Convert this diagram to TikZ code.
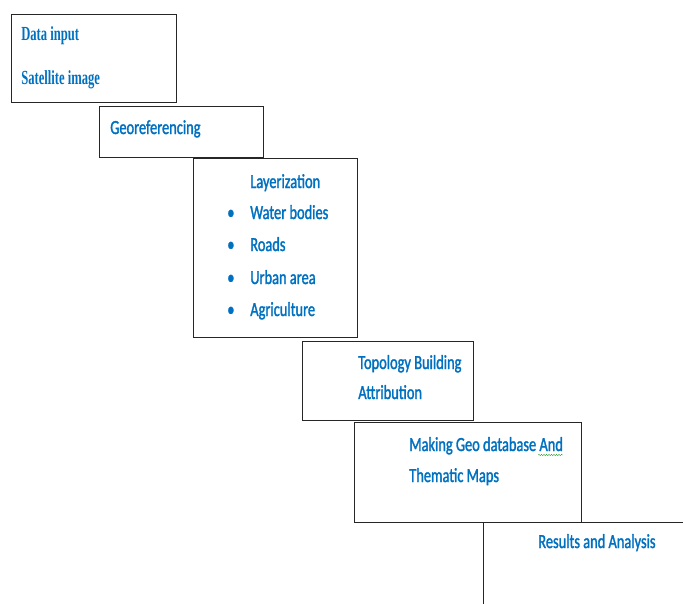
\documentclass[tikz,border=0pt]{standalone}
\usepackage{fontspec}
\setmainfont{Carlito}[FakeStretch=0.72, FakeBold=1.5]
\newfontfamily\datafont{Liberation Serif}[FakeStretch=0.63]
\usetikzlibrary{decorations.pathmorphing}
\definecolor{stepBlue}{HTML}{0070C0}
\definecolor{spellGreen}{HTML}{3FA33F}
\newcommand{\stepsize}{\fontsize{20}{24}\selectfont}

\begin{document}
\begin{tikzpicture}[x = 1pt, y = -1pt, semithick,
    stepbox/.style = {draw, line width=1.3pt, color=black!85,
                      anchor=north west, inner sep=0pt},
    steptext/.style = {anchor=base west, inner sep=0pt,
                       text=stepBlue, font=\stepsize}]
    \useasboundingbox (0, 0) rectangle (683, 603) ;

    % boxes of the staircase %

    % data input
    \node [stepbox, minimum width=165pt, minimum height=88pt]
          at (10.5, 14) (box-data) {} ;

    % georeferencing
    \node [stepbox, minimum width=164pt, minimum height=51pt]
          at (99, 106) (box-geo) {} ;

    % layerization
    \node [stepbox, minimum width=164pt, minimum height=179pt]
          at (193, 158) (box-layer) {} ;

    % topology
    \node [stepbox, minimum width=171pt, minimum height=79pt]
          at (302, 341) (box-topo) {} ;

    % geo database
    \node [stepbox, minimum width=227pt, minimum height=100pt]
          at (354, 421.5) (box-gdb) {} ;

    % results (runs off the page)
    \node [stepbox, minimum width=240pt, minimum height=120pt]
          at (482.5, 521.5) (box-res) {} ;


    % texts %

    % data input
    \node [steptext, font=\stepsize\datafont\bfseries]
          at (21, 40) (txt-data) {Data input} ;
    \node [steptext, font=\stepsize\datafont\bfseries]
          at (21, 84) (txt-sat) {Satellite image} ;

    % georeferencing
    \node [steptext] at (110, 134) (txt-geo) {Georeferencing} ;

    % layerization with its list
    \node [steptext] at (250, 188) (txt-layer) {Layerization} ;
    \node [steptext] at (250, 219) (txt-water) {Water bodies} ;
    \node [steptext] at (250, 251) (txt-roads) {Roads} ;
    \node [steptext] at (250, 284) (txt-urban) {Urban area} ;
    \node [steptext] at (250, 316) (txt-agri) {Agriculture} ;

    \node [steptext] at (227, 219) (dot-water) {\textbullet} ;
    \node [steptext] at (227, 251) (dot-roads) {\textbullet} ;
    \node [steptext] at (227, 284) (dot-urban) {\textbullet} ;
    \node [steptext] at (227, 316) (dot-agri) {\textbullet} ;

    % topology
    \node [steptext] at (358, 369) (txt-topo) {Topology Building} ;
    \node [steptext] at (358, 399) (txt-attr) {Attribution} ;

    % geo database
    \node [steptext] at (409, 451) (txt-gdb)
          {Making Geo database \textcolor{stepBlue}{And}} ;
    \node [steptext] at (409, 482) (txt-maps) {Thematic Maps} ;
    \draw [spellGreen, thin,
           decorate, decoration={snake, amplitude=0.8pt, segment length=2.5pt}]
          (txt-gdb.base east) ++(-25, 4) -- ++(25, 0) ;

    % results
    \node [steptext] at (538, 548) (txt-res) {Results and Analysis} ;

\end{tikzpicture}
\end{document}
